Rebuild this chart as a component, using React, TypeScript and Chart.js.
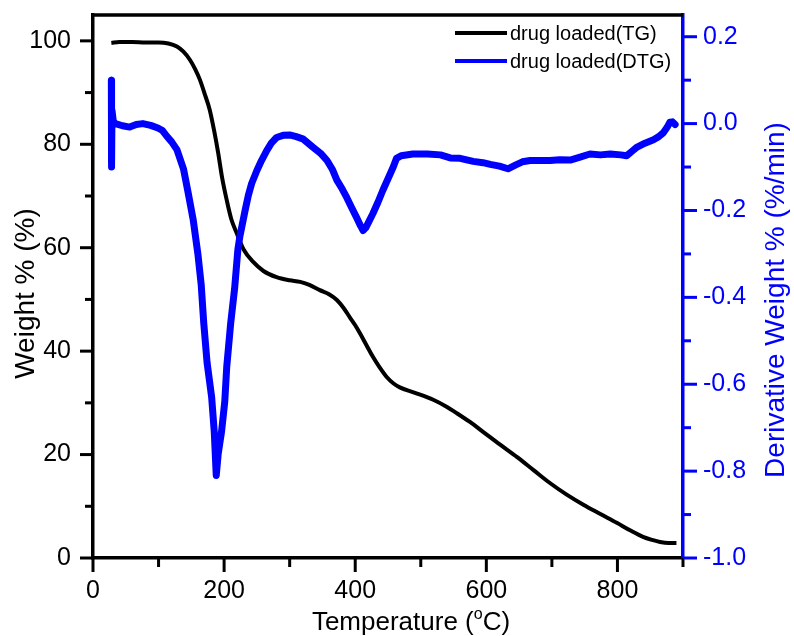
import React, { useEffect, useRef } from "react";
import { Chart, registerables } from "chart.js";

Chart.register(...registerables);

// ---- data ----
const tgTemperature = [
  28, 40, 60, 80, 100, 115, 128, 138, 148, 156, 163, 171, 178, 185, 191, 197, 204, 211, 219, 230,
  244, 260, 280, 300, 316, 330, 346, 360, 372, 382, 392, 400, 407, 417, 427, 437, 448, 458, 468, 490,
  519, 540, 555, 575, 595, 620, 647, 672, 697, 722, 748, 774, 799, 820, 839, 853, 865, 878, 890,
];
const tgWeight = [
  99.6, 99.8, 99.8, 99.7, 99.7, 99.5, 98.9, 97.9, 96.3, 94.5, 92.5, 89.5, 86.7, 82.5, 78.3, 73.5, 69.2, 65.5, 62.9, 59.6,
  57.3, 55.5, 54.3, 53.7, 53.4, 52.8, 51.8, 51.0, 49.9, 48.4, 46.5, 45.0, 43.5, 41.2, 38.9, 36.9, 35.0, 33.8, 33.0, 32.0,
  30.6, 29.2, 28.0, 26.3, 24.4, 22.0, 19.5, 17.0, 14.5, 12.3, 10.3, 8.5, 6.8, 5.3, 4.1, 3.5, 3.1, 2.9, 2.9,
];

const dtgTemperature = [
  28, 28.3, 29, 31, 34, 45, 56, 66, 76, 88, 99, 106, 112, 120, 128, 138, 145, 153, 160, 165,
  169, 174, 181, 185, 188, 191, 196, 201, 204, 210, 216, 221, 224, 232, 237, 242, 250, 257, 265, 272,
  280, 290, 300, 310, 320, 336, 347, 357, 365, 372, 380, 387, 395, 402, 408, 412, 416, 421, 427, 435,
  442, 450, 458, 463, 470, 488, 510, 530, 545, 560, 580, 595, 606, 620, 633, 645, 655, 667, 682, 697,
  712, 728, 743, 758, 774, 789, 805, 814, 822, 830, 842, 855, 863, 870, 876, 880, 884, 888,
];
const dtgDerivative = [
  0.10, -0.10, 0.03, 0.005, 0.0, -0.005, -0.008, -0.002, 0.0, -0.004, -0.01, -0.016, -0.028, -0.042, -0.06, -0.104, -0.158, -0.223, -0.30, -0.37,
  -0.46, -0.55, -0.63, -0.71, -0.81, -0.76, -0.71, -0.64, -0.56, -0.46, -0.38, -0.29, -0.26, -0.20, -0.165, -0.138, -0.108, -0.085, -0.062, -0.045,
  -0.032, -0.027, -0.026, -0.030, -0.035, -0.055, -0.068, -0.085, -0.105, -0.13, -0.15, -0.17, -0.195, -0.216, -0.235, -0.246, -0.24, -0.225, -0.207, -0.18,
  -0.154, -0.127, -0.10, -0.08, -0.074, -0.07, -0.07, -0.072, -0.079, -0.08, -0.087, -0.09, -0.094, -0.098, -0.104, -0.095, -0.088, -0.085, -0.085, -0.085,
  -0.083, -0.084, -0.077, -0.070, -0.072, -0.070, -0.072, -0.074, -0.064, -0.054, -0.045, -0.037, -0.030, -0.021, -0.008, 0.003, 0.004, -0.002,
];

const seriesLabels = ["drug loaded(TG)", "drug loaded(DTG)"];

const xTickValues = [0, 200, 400, 600, 800];
const xMinorTicks = [100, 300, 500, 700, 900];
const leftTickValues = [0, 20, 40, 60, 80, 100];
const leftMinorTicks = [10, 30, 50, 70, 90];
const rightTickValues = [-1.0, -0.8, -0.6, -0.4, -0.2, 0.0, 0.2];
const rightMinorTicks = [-0.9, -0.7, -0.5, -0.3, -0.1, 0.1];

const xTitleMain = "Temperature (";
const xTitleSup = "o";
const xTitleEnd = "C)";
const leftTitle = "Weight % (%)";
const rightTitle = "Derivative Weight % (%/min)";

// ---- styling ----
const FONT = '"Liberation Sans", Arial, Helvetica, sans-serif';
const BLUE = "#0000FF";
const BLACK = "#000000";

const decorPlugin = {
  id: "decor",
  afterDraw(chart: any) {
    const { ctx, chartArea, scales } = chart;
    const { left, right, top, bottom } = chartArea;
    ctx.save();

    // top frame line
    ctx.lineWidth = 3.5;
    ctx.strokeStyle = BLACK;
    ctx.beginPath();
    ctx.moveTo(left - 1.5, top);
    ctx.lineTo(right, top);
    ctx.stroke();

    const tick = (x1: number, y1: number, x2: number, y2: number, color: string) => {
      ctx.strokeStyle = color;
      ctx.lineWidth = 3;
      ctx.beginPath();
      ctx.moveTo(x1, y1);
      ctx.lineTo(x2, y2);
      ctx.stroke();
    };
    // x ticks
    xTickValues.forEach((v) => {
      const p = scales.x.getPixelForValue(v);
      tick(p, bottom, p, bottom + 14, BLACK);
    });
    xMinorTicks.forEach((v) => {
      const p = scales.x.getPixelForValue(v);
      tick(p, bottom, p, bottom + 9, BLACK);
    });
    // left ticks
    leftTickValues.forEach((v) => {
      const p = scales.y.getPixelForValue(v);
      tick(left, p, left - 13, p, BLACK);
    });
    leftMinorTicks.forEach((v) => {
      const p = scales.y.getPixelForValue(v);
      tick(left, p, left - 8, p, BLACK);
    });
    // right ticks
    rightTickValues.forEach((v) => {
      const p = scales.y2.getPixelForValue(v);
      tick(right, p, right + 14, p, BLUE);
    });
    rightMinorTicks.forEach((v) => {
      const p = scales.y2.getPixelForValue(v);
      tick(right, p, right + 8, p, BLUE);
    });

    // axis titles
    const midY = (top + bottom) / 2;
    ctx.textAlign = "center";
    ctx.textBaseline = "middle";
    ctx.fillStyle = BLACK;
    ctx.font = `28px ${FONT}`;
    ctx.save();
    ctx.translate(26.5, midY + 7);
    ctx.rotate(-Math.PI / 2);
    ctx.fillText(leftTitle, 0, 0);
    ctx.restore();

    ctx.fillStyle = BLUE;
    ctx.save();
    ctx.translate(776, midY + 13.5);
    ctx.rotate(-Math.PI / 2);
    ctx.fillText(rightTitle, 0, 0);
    ctx.restore();

    // x title with superscript
    ctx.fillStyle = BLACK;
    ctx.textAlign = "left";
    ctx.textBaseline = "alphabetic";
    const mainFont = `26px ${FONT}`;
    const supFont = `16px ${FONT}`;
    ctx.font = mainFont;
    const w1 = ctx.measureText(xTitleMain).width;
    const w3 = ctx.measureText(xTitleEnd).width;
    ctx.font = supFont;
    const w2 = ctx.measureText(xTitleSup).width;
    const total = w1 + w2 + w3;
    const cx = (left + right) / 2 + 23;
    let sx = cx - total / 2;
    const base = bottom + 72;
    ctx.font = mainFont;
    ctx.fillText(xTitleMain, sx, base);
    sx += w1;
    ctx.font = supFont;
    ctx.fillText(xTitleSup, sx, base - 11);
    sx += w2;
    ctx.font = mainFont;
    ctx.fillText(xTitleEnd, sx, base);

    // legend
    const colors = [BLACK, BLUE];
    ctx.font = `20px ${FONT}`;
    ctx.textBaseline = "middle";
    seriesLabels.forEach((lab, i) => {
      const y = top + 18 + i * 28;
      ctx.strokeStyle = colors[i];
      ctx.lineWidth = 4;
      ctx.beginPath();
      ctx.moveTo(right - 228, y);
      ctx.lineTo(right - 176, y);
      ctx.stroke();
      ctx.fillStyle = BLACK;
      ctx.fillText(lab, right - 173, y + 1);
    });

    ctx.restore();
  },
};

export default function App() {
  const ref = useRef<HTMLCanvasElement | null>(null);

  useEffect(() => {
    if (!ref.current) return;
    const tgData = tgTemperature.map((t, i) => ({ x: t, y: tgWeight[i] }));
    const dtgData = dtgTemperature.map((t, i) => ({ x: t, y: dtgDerivative[i] }));

    const chart = new Chart(ref.current, {
      type: "line",
      data: {
        datasets: [
          {
            label: seriesLabels[0],
            data: tgData,
            yAxisID: "y",
            borderColor: BLACK,
            borderWidth: 4,
            pointRadius: 0,
            cubicInterpolationMode: "monotone",
            fill: false,
            order: 1,
          },
          {
            label: seriesLabels[1],
            data: dtgData,
            yAxisID: "y2",
            borderColor: BLUE,
            borderWidth: 7,
            pointRadius: 0,
            tension: 0,
            borderJoinStyle: "round",
            borderCapStyle: "round",
            fill: false,
            order: 0,
          },
        ],
      },
      options: {
        responsive: false,
        devicePixelRatio: 1,
        animation: false,
        layout: { padding: { top: 15, left: 0, right: 0, bottom: 0 } },
        plugins: {
          legend: { display: false },
          tooltip: { enabled: false },
        },
        scales: {
          x: {
            type: "linear",
            position: "bottom",
            min: 0,
            max: 900,
            afterBuildTicks: (s: any) => {
              s.ticks = xTickValues.map((v) => ({ value: v }));
            },
            afterFit: (s: any) => {
              s.height = 78;
              s.paddingLeft = 0;
              s.paddingRight = 0;
            },
            grid: { display: false, drawTicks: false },
            border: { display: true, color: BLACK, width: 3.5 },
            ticks: {
              color: BLACK,
              font: { family: FONT, size: 25 },
              padding: 18,
              autoSkip: false,
              maxRotation: 0,
              callback: (v: any) => String(v),
            },
          },
          y: {
            type: "linear",
            position: "left",
            min: 0,
            max: 105,
            afterBuildTicks: (s: any) => {
              s.ticks = leftTickValues.map((v) => ({ value: v }));
            },
            afterFit: (s: any) => {
              s.width = 93;
              s.paddingTop = 0;
              s.paddingBottom = 0;
            },
            grid: { display: false, drawTicks: false },
            border: { display: true, color: BLACK, width: 3.5 },
            ticks: {
              color: BLACK,
              font: { family: FONT, size: 25 },
              padding: 22,
              autoSkip: false,
              callback: (v: any) => String(v),
            },
          },
          y2: {
            type: "linear",
            position: "right",
            min: -1.0,
            max: 0.25,
            afterBuildTicks: (s: any) => {
              s.ticks = rightTickValues.map((v) => ({ value: v }));
            },
            afterFit: (s: any) => {
              s.width = 111;
              s.paddingTop = 0;
              s.paddingBottom = 0;
            },
            grid: { display: false, drawTicks: false },
            border: { display: true, color: BLUE, width: 3.5 },
            ticks: {
              color: BLUE,
              font: { family: FONT, size: 25 },
              padding: 20,
              autoSkip: false,
              callback: (v: any) => Number(v).toFixed(1),
            },
          },
        },
      },
      plugins: [decorPlugin],
    } as any);

    return () => chart.destroy();
  }, []);

  return (
    <div style={{ position: "absolute", left: 0, top: 0, width: 794, height: 636, background: "#fff" }}>
      <canvas ref={ref} width={794} height={636} style={{ display: "block" }} />
    </div>
  );
}
